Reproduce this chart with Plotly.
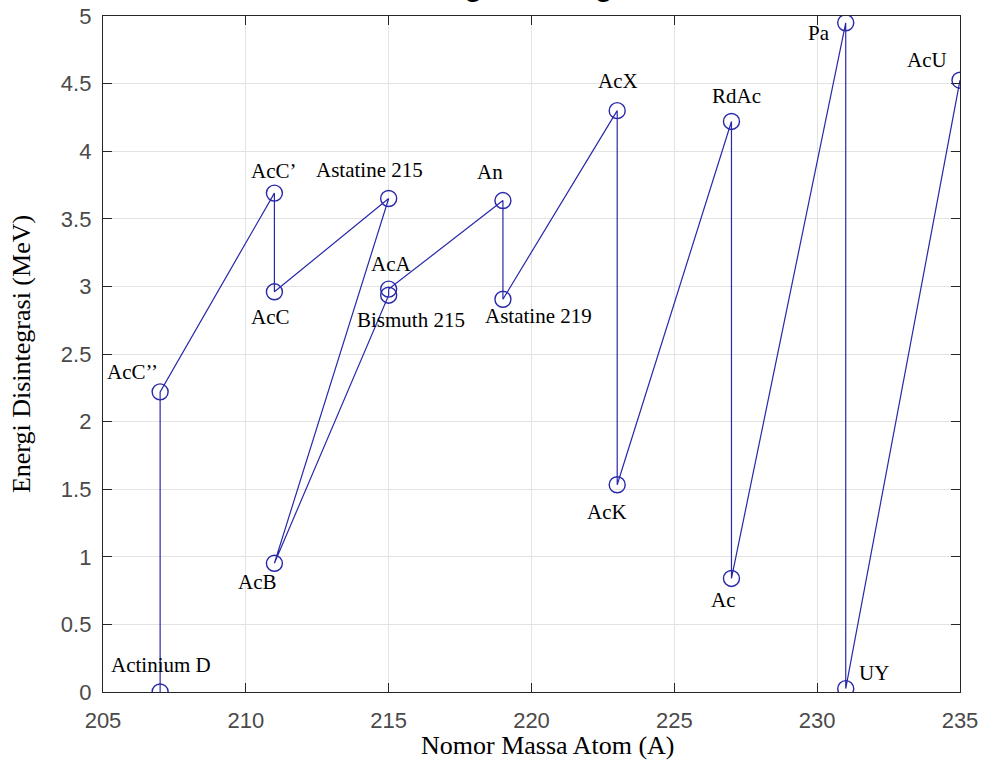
import plotly.graph_objects as go

# Decay-chain path (order in which the line is drawn)
nuclides = ["AcU", "UY", "Pa", "Ac", "RdAc", "AcK", "AcX", "Astatine 219", "An",
            "AcA", "Bismuth 215", "AcB", "Astatine 215", "AcC", "AcC\u2019", "AcC\u2019\u2019",
            "Actinium D"]
mass_number = [235, 231, 231, 227, 227, 223, 223, 219, 219, 215, 215, 211, 215, 211, 211, 207, 207]
energy_mev = [4.525, 0.025, 4.95, 0.84, 4.22, 1.533, 4.30, 2.905, 3.635,
              2.98, 2.935, 0.952, 3.65, 2.96, 3.69, 2.22, 0.0]

x_ticks = [205, 210, 215, 220, 225, 230, 235]
y_ticks = [0, 0.5, 1, 1.5, 2, 2.5, 3, 3.5, 4, 4.5, 5]

# label offsets in pixels (dx right, dy down) from each point
label_offsets = [(-33, -20), (28, -16), (-27, 10), (-8, 22), (5, -25), (-10, 27), (1, -30),
                 (36, 17), (-13, -29), (2, -25), (22, 25), (-17, 19), (-19, -29), (-4, 25),
                 (0, -22), (-28, -20), (1, -27)]

line_color = "rgb(40,40,170)"
serif = "Liberation Serif, Times New Roman, serif"
sans = "Liberation Sans, Arial, sans-serif"

fig = go.Figure()
fig.add_trace(go.Scatter(
    x=mass_number, y=energy_mev, mode="lines+markers",
    line=dict(color=line_color, width=1.2),
    marker=dict(symbol="circle-open", size=16, color=line_color, line=dict(width=1.4, color=line_color)),
    showlegend=False, hoverinfo="x+y+text", text=nuclides,
))

annotations = []
for name, xv, yv, (dx, dy) in zip(nuclides, mass_number, energy_mev, label_offsets):
    annotations.append(dict(
        x=xv, y=yv, xref="x", yref="y", text=name, showarrow=False,
        xshift=dx, yshift=-dy, xanchor="center", yanchor="middle",
        font=dict(family=serif, size=21, color="black"),
    ))

# partially visible title at the very top (only descenders show, as in the reference)
annotations.append(dict(
    x=0.5, y=1.0, xref="paper", yref="paper", text="<b>Energi Disintegrasi</b>",
    showarrow=False, xanchor="center", yanchor="middle", yshift=30,
    font=dict(family=sans, size=29, color="black"),
))

# x-axis title (placed as an annotation for exact position)
annotations.append(dict(
    x=0.5, y=0.0, xref="paper", yref="paper", text="Nomor Massa Atom (A)",
    showarrow=False, xanchor="center", yanchor="middle", xshift=16, yshift=-53,
    font=dict(family=serif, size=26, color="black"),
))

axis_common = dict(
    showgrid=True, gridcolor="#e3e3e3", gridwidth=1,
    showline=True, linecolor="#262626", linewidth=1.3, mirror="ticks",
    ticks="inside", ticklen=9, tickcolor="#262626", tickwidth=1.3,
    zeroline=False, automargin=False,
    tickfont=dict(family=sans, size=22, color="#4a4a4a"),
)

fig.update_layout(
    width=982, height=760,
    margin=dict(l=103, r=22, t=16, b=68),
    paper_bgcolor="white", plot_bgcolor="white",
    annotations=annotations,
    xaxis=dict(range=[205, 235], tickvals=x_ticks, ticktext=[str(t) for t in x_ticks],
               ticklabelstandoff=8, **axis_common),
    yaxis=dict(range=[0, 5], tickvals=y_ticks, ticktext=[f"{t:g}" for t in y_ticks],
               ticklabelstandoff=6,
               title=dict(text="Energi Disintegrasi (MeV)", standoff=22,
                          font=dict(family=serif, size=26, color="black")),
               **axis_common),
)

fig.write_html("out.html")
